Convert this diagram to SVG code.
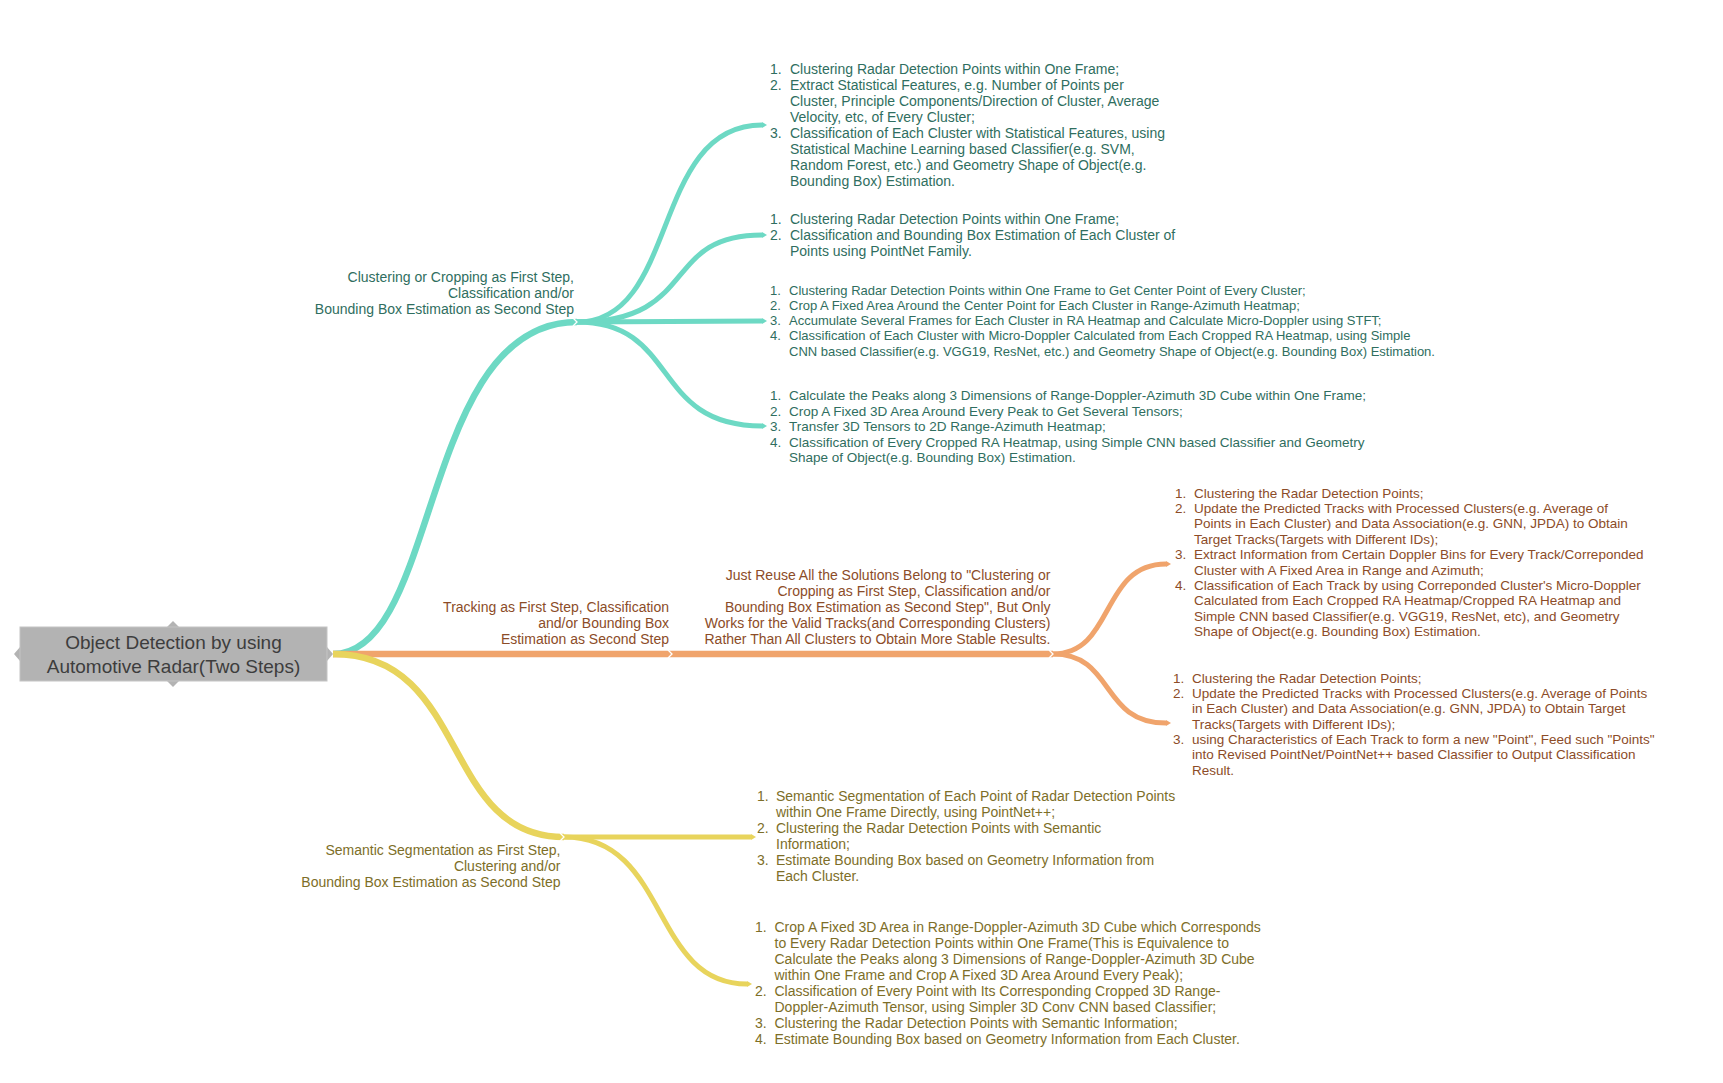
<svg xmlns="http://www.w3.org/2000/svg" width="1723" height="1083" viewBox="0 0 1723 1083">
<style>
text{font-family:"Liberation Sans",Arial,sans-serif;}
.f14{font-size:14px;}
.f135{font-size:13.5px;}
.f13{font-size:13px;}
.tl{fill:#2f6e60;}
.or{fill:#8c4c28;}
.ye{fill:#7d6e28;}
.r{text-anchor:end;}
.bt{fill:none;stroke:#6dd9c4;stroke-linecap:butt;}
.bo{fill:none;stroke:#f0a46c;stroke-linecap:butt;}
.by{fill:none;stroke:#e8d45c;stroke-linecap:butt;}
.w1{stroke-width:6.5;}
.w2{stroke-width:5;}
.ch{fill:none;stroke:#ffffff;stroke-width:1.3;}
</style>
<defs>
<marker id="mt" markerUnits="userSpaceOnUse" markerWidth="8" markerHeight="8" refX="0" refY="4" orient="auto"><path d="M0,1 L5,4 L0,7 z" fill="#6dd9c4"/></marker>
<marker id="mo" markerUnits="userSpaceOnUse" markerWidth="8" markerHeight="8" refX="0" refY="4" orient="auto"><path d="M0,1 L5,4 L0,7 z" fill="#f0a46c"/></marker>
<marker id="my" markerUnits="userSpaceOnUse" markerWidth="8" markerHeight="8" refX="0" refY="4" orient="auto"><path d="M0,1 L5,4 L0,7 z" fill="#e8d45c"/></marker>
</defs>
<rect width="1723" height="1083" fill="#ffffff"/>

<g id="connectors">
<path class="bt w1" d="M333,654 C440,654 420,322 577,322"/>
<path class="bt w2" d="M577,322 C680,322 650,125 762,125" marker-end="url(#mt)"/>
<path class="bt w2" d="M577,322 C700,322 660,235 762,235" marker-end="url(#mt)"/>
<path class="bt w2" d="M577,322 L762,321" marker-end="url(#mt)"/>
<path class="bt w2" d="M577,322 C680,322 650,426 762,426" marker-end="url(#mt)"/>
<path class="bo w1" d="M333,654 L672,654"/>
<path class="bo w1" d="M672,654 L1053,654"/>
<path class="bo w2" d="M1053,654 C1115,654 1100,564 1166,564" marker-end="url(#mo)"/>
<path class="bo w2" d="M1053,654 C1115,654 1100,723 1166,723" marker-end="url(#mo)"/>
<path class="by w1" d="M333,654 C470,654 440,837 564,837"/>
<path class="by w2" d="M564,837 L751,837" marker-end="url(#my)"/>
<path class="by w2" d="M564,837 C670,837 650,984 747,984" marker-end="url(#my)"/>
<path class="ch" d="M573,318 L577,322 L573,326"/>
<path class="ch" d="M668,650 L672,654 L668,658"/>
<path class="ch" d="M1049,650 L1053,654 L1049,658"/>
<path class="ch" d="M560,833 L564,837 L560,841"/>
</g>

<g id="root">
<polygon points="167,627 173,621 179,627" fill="#b3b3b3"/>
<polygon points="167,681 173,687 179,681" fill="#b3b3b3"/>
<polygon points="20,647 14,654 20,661" fill="#b3b3b3"/>
<polygon points="327,647 333,654 327,661" fill="#b3b3b3"/>
<rect x="20" y="627" width="307" height="54" fill="#b3b3b3" stroke="#c4c4c4" stroke-width="1"/>
<text x="173.5" y="649" font-size="19" fill="#3d3d3d" text-anchor="middle">Object Detection by using</text>
<text x="173.5" y="673" font-size="19" fill="#3d3d3d" text-anchor="middle">Automotive Radar(Two Steps)</text>
</g>

<g id="teal-label">
<text class="f14 tl r" x="574" y="281.5">Clustering or Cropping as First Step,</text>
<text class="f14 tl r" x="574" y="297.5">Classification and/or</text>
<text class="f14 tl r" x="574" y="313.5">Bounding Box Estimation as Second Step</text>
</g>

<g id="teal-1">
<text class="f14 tl" x="770" y="74">1.</text><text class="f14 tl" x="790" y="74">Clustering Radar Detection Points within One Frame;</text>
<text class="f14 tl" x="770" y="90">2.</text><text class="f14 tl" x="790" y="90">Extract Statistical Features, e.g. Number of Points per</text>
<text class="f14 tl" x="790" y="106">Cluster, Principle Components/Direction of Cluster, Average</text>
<text class="f14 tl" x="790" y="122">Velocity, etc, of Every Cluster;</text>
<text class="f14 tl" x="770" y="138">3.</text><text class="f14 tl" x="790" y="138">Classification of Each Cluster with Statistical Features, using</text>
<text class="f14 tl" x="790" y="154">Statistical Machine Learning based Classifier(e.g. SVM,</text>
<text class="f14 tl" x="790" y="170">Random Forest, etc.) and Geometry Shape of Object(e.g.</text>
<text class="f14 tl" x="790" y="186">Bounding Box) Estimation.</text>
</g>

<g id="teal-2">
<text class="f14 tl" x="770" y="224">1.</text><text class="f14 tl" x="790" y="224">Clustering Radar Detection Points within One Frame;</text>
<text class="f14 tl" x="770" y="240">2.</text><text class="f14 tl" x="790" y="240">Classification and Bounding Box Estimation of Each Cluster of</text>
<text class="f14 tl" x="790" y="256">Points using PointNet Family.</text>
</g>

<g id="teal-3">
<text class="f13 tl" x="770" y="294.5">1.</text><text class="f13 tl" x="789" y="294.5">Clustering Radar Detection Points within One Frame to Get Center Point of Every Cluster;</text>
<text class="f13 tl" x="770" y="309.8">2.</text><text class="f13 tl" x="789" y="309.8">Crop A Fixed Area Around the Center Point for Each Cluster in Range-Azimuth Heatmap;</text>
<text class="f13 tl" x="770" y="325">3.</text><text class="f13 tl" x="789" y="325">Accumulate Several Frames for Each Cluster in RA Heatmap and Calculate Micro-Doppler using STFT;</text>
<text class="f13 tl" x="770" y="340.3">4.</text><text class="f13 tl" x="789" y="340.3">Classification of Each Cluster with Micro-Doppler Calculated from Each Cropped RA Heatmap, using Simple</text>
<text class="f13 tl" x="789" y="355.5">CNN based Classifier(e.g. VGG19, ResNet, etc.) and Geometry Shape of Object(e.g. Bounding Box) Estimation.</text>
</g>

<g id="teal-4">
<text class="f135 tl" x="770" y="400">1.</text><text class="f135 tl" x="789" y="400">Calculate the Peaks along 3 Dimensions of Range-Doppler-Azimuth 3D Cube within One Frame;</text>
<text class="f135 tl" x="770" y="415.6">2.</text><text class="f135 tl" x="789" y="415.6">Crop A Fixed 3D Area Around Every Peak to Get Several Tensors;</text>
<text class="f135 tl" x="770" y="431.2">3.</text><text class="f135 tl" x="789" y="431.2">Transfer 3D Tensors to 2D Range-Azimuth Heatmap;</text>
<text class="f135 tl" x="770" y="446.8">4.</text><text class="f135 tl" x="789" y="446.8">Classification of Every Cropped RA Heatmap, using Simple CNN based Classifier and Geometry</text>
<text class="f135 tl" x="789" y="462.4">Shape of Object(e.g. Bounding Box) Estimation.</text>
</g>

<g id="orange-label">
<text class="f14 or r" x="669" y="612">Tracking as First Step, Classification</text>
<text class="f14 or r" x="669" y="628">and/or Bounding Box</text>
<text class="f14 or r" x="669" y="644">Estimation as Second Step</text>
</g>

<g id="orange-label-2">
<text class="f14 or r" x="1050.5" y="580">Just Reuse All the Solutions Belong to "Clustering or</text>
<text class="f14 or r" x="1050.5" y="596">Cropping as First Step, Classification and/or</text>
<text class="f14 or r" x="1050.5" y="612">Bounding Box Estimation as Second Step", But Only</text>
<text class="f14 or r" x="1050.5" y="628">Works for the Valid Tracks(and Corresponding Clusters)</text>
<text class="f14 or r" x="1050.5" y="644">Rather Than All Clusters to Obtain More Stable Results.</text>
</g>

<g id="orange-1">
<text class="f135 or" x="1175" y="497.5">1.</text><text class="f135 or" x="1194" y="497.5">Clustering the Radar Detection Points;</text>
<text class="f135 or" x="1175" y="512.9">2.</text><text class="f135 or" x="1194" y="512.9">Update the Predicted Tracks with Processed Clusters(e.g. Average of</text>
<text class="f135 or" x="1194" y="528.3">Points in Each Cluster) and Data Association(e.g. GNN, JPDA) to Obtain</text>
<text class="f135 or" x="1194" y="543.7">Target Tracks(Targets with Different IDs);</text>
<text class="f135 or" x="1175" y="559.1">3.</text><text class="f135 or" x="1194" y="559.1">Extract Information from Certain Doppler Bins for Every Track/Correponded</text>
<text class="f135 or" x="1194" y="574.5">Cluster with A Fixed Area in Range and Azimuth;</text>
<text class="f135 or" x="1175" y="589.9">4.</text><text class="f135 or" x="1194" y="589.9">Classification of Each Track by using Correponded Cluster's Micro-Doppler</text>
<text class="f135 or" x="1194" y="605.3">Calculated from Each Cropped RA Heatmap/Cropped RA Heatmap and</text>
<text class="f135 or" x="1194" y="620.7">Simple CNN based Classifier(e.g. VGG19, ResNet, etc), and Geometry</text>
<text class="f135 or" x="1194" y="636.1">Shape of Object(e.g. Bounding Box) Estimation.</text>
</g>

<g id="orange-2">
<text class="f135 or" x="1173" y="682.5">1.</text><text class="f135 or" x="1192" y="682.5">Clustering the Radar Detection Points;</text>
<text class="f135 or" x="1173" y="697.9">2.</text><text class="f135 or" x="1192" y="697.9">Update the Predicted Tracks with Processed Clusters(e.g. Average of Points</text>
<text class="f135 or" x="1192" y="713.2">in Each Cluster) and Data Association(e.g. GNN, JPDA) to Obtain Target</text>
<text class="f135 or" x="1192" y="728.6">Tracks(Targets with Different IDs);</text>
<text class="f135 or" x="1173" y="743.9">3.</text><text class="f135 or" x="1192" y="743.9">using Characteristics of Each Track to form a new "Point", Feed such "Points"</text>
<text class="f135 or" x="1192" y="759.3">into Revised PointNet/PointNet++ based Classifier to Output Classification</text>
<text class="f135 or" x="1192" y="774.6">Result.</text>
</g>

<g id="yellow-label">
<text class="f14 ye r" x="560.5" y="855">Semantic Segmentation as First Step,</text>
<text class="f14 ye r" x="560.5" y="871">Clustering and/or</text>
<text class="f14 ye r" x="560.5" y="887">Bounding Box Estimation as Second Step</text>
</g>

<g id="yellow-1">
<text class="f14 ye" x="757" y="800.5">1.</text><text class="f14 ye" x="776" y="800.5">Semantic Segmentation of Each Point of Radar Detection Points</text>
<text class="f14 ye" x="776" y="816.5">within One Frame Directly, using PointNet++;</text>
<text class="f14 ye" x="757" y="832.5">2.</text><text class="f14 ye" x="776" y="832.5">Clustering the Radar Detection Points with Semantic</text>
<text class="f14 ye" x="776" y="848.5">Information;</text>
<text class="f14 ye" x="757" y="864.5">3.</text><text class="f14 ye" x="776" y="864.5">Estimate Bounding Box based on Geometry Information from</text>
<text class="f14 ye" x="776" y="880.5">Each Cluster.</text>
</g>

<g id="yellow-2">
<text class="f14 ye" x="755" y="932">1.</text><text class="f14 ye" x="774.5" y="932">Crop A Fixed 3D Area in Range-Doppler-Azimuth 3D Cube which Corresponds</text>
<text class="f14 ye" x="774.5" y="948">to Every Radar Detection Points within One Frame(This is Equivalence to</text>
<text class="f14 ye" x="774.5" y="964">Calculate the Peaks along 3 Dimensions of Range-Doppler-Azimuth 3D Cube</text>
<text class="f14 ye" x="774.5" y="980">within One Frame and Crop A Fixed 3D Area Around Every Peak);</text>
<text class="f14 ye" x="755" y="996">2.</text><text class="f14 ye" x="774.5" y="996">Classification of Every Point with Its Corresponding Cropped 3D Range-</text>
<text class="f14 ye" x="774.5" y="1012">Doppler-Azimuth Tensor, using Simpler 3D Conv CNN based Classifier;</text>
<text class="f14 ye" x="755" y="1028">3.</text><text class="f14 ye" x="774.5" y="1028">Clustering the Radar Detection Points with Semantic Information;</text>
<text class="f14 ye" x="755" y="1044">4.</text><text class="f14 ye" x="774.5" y="1044">Estimate Bounding Box based on Geometry Information from Each Cluster.</text>
</g>
</svg>
